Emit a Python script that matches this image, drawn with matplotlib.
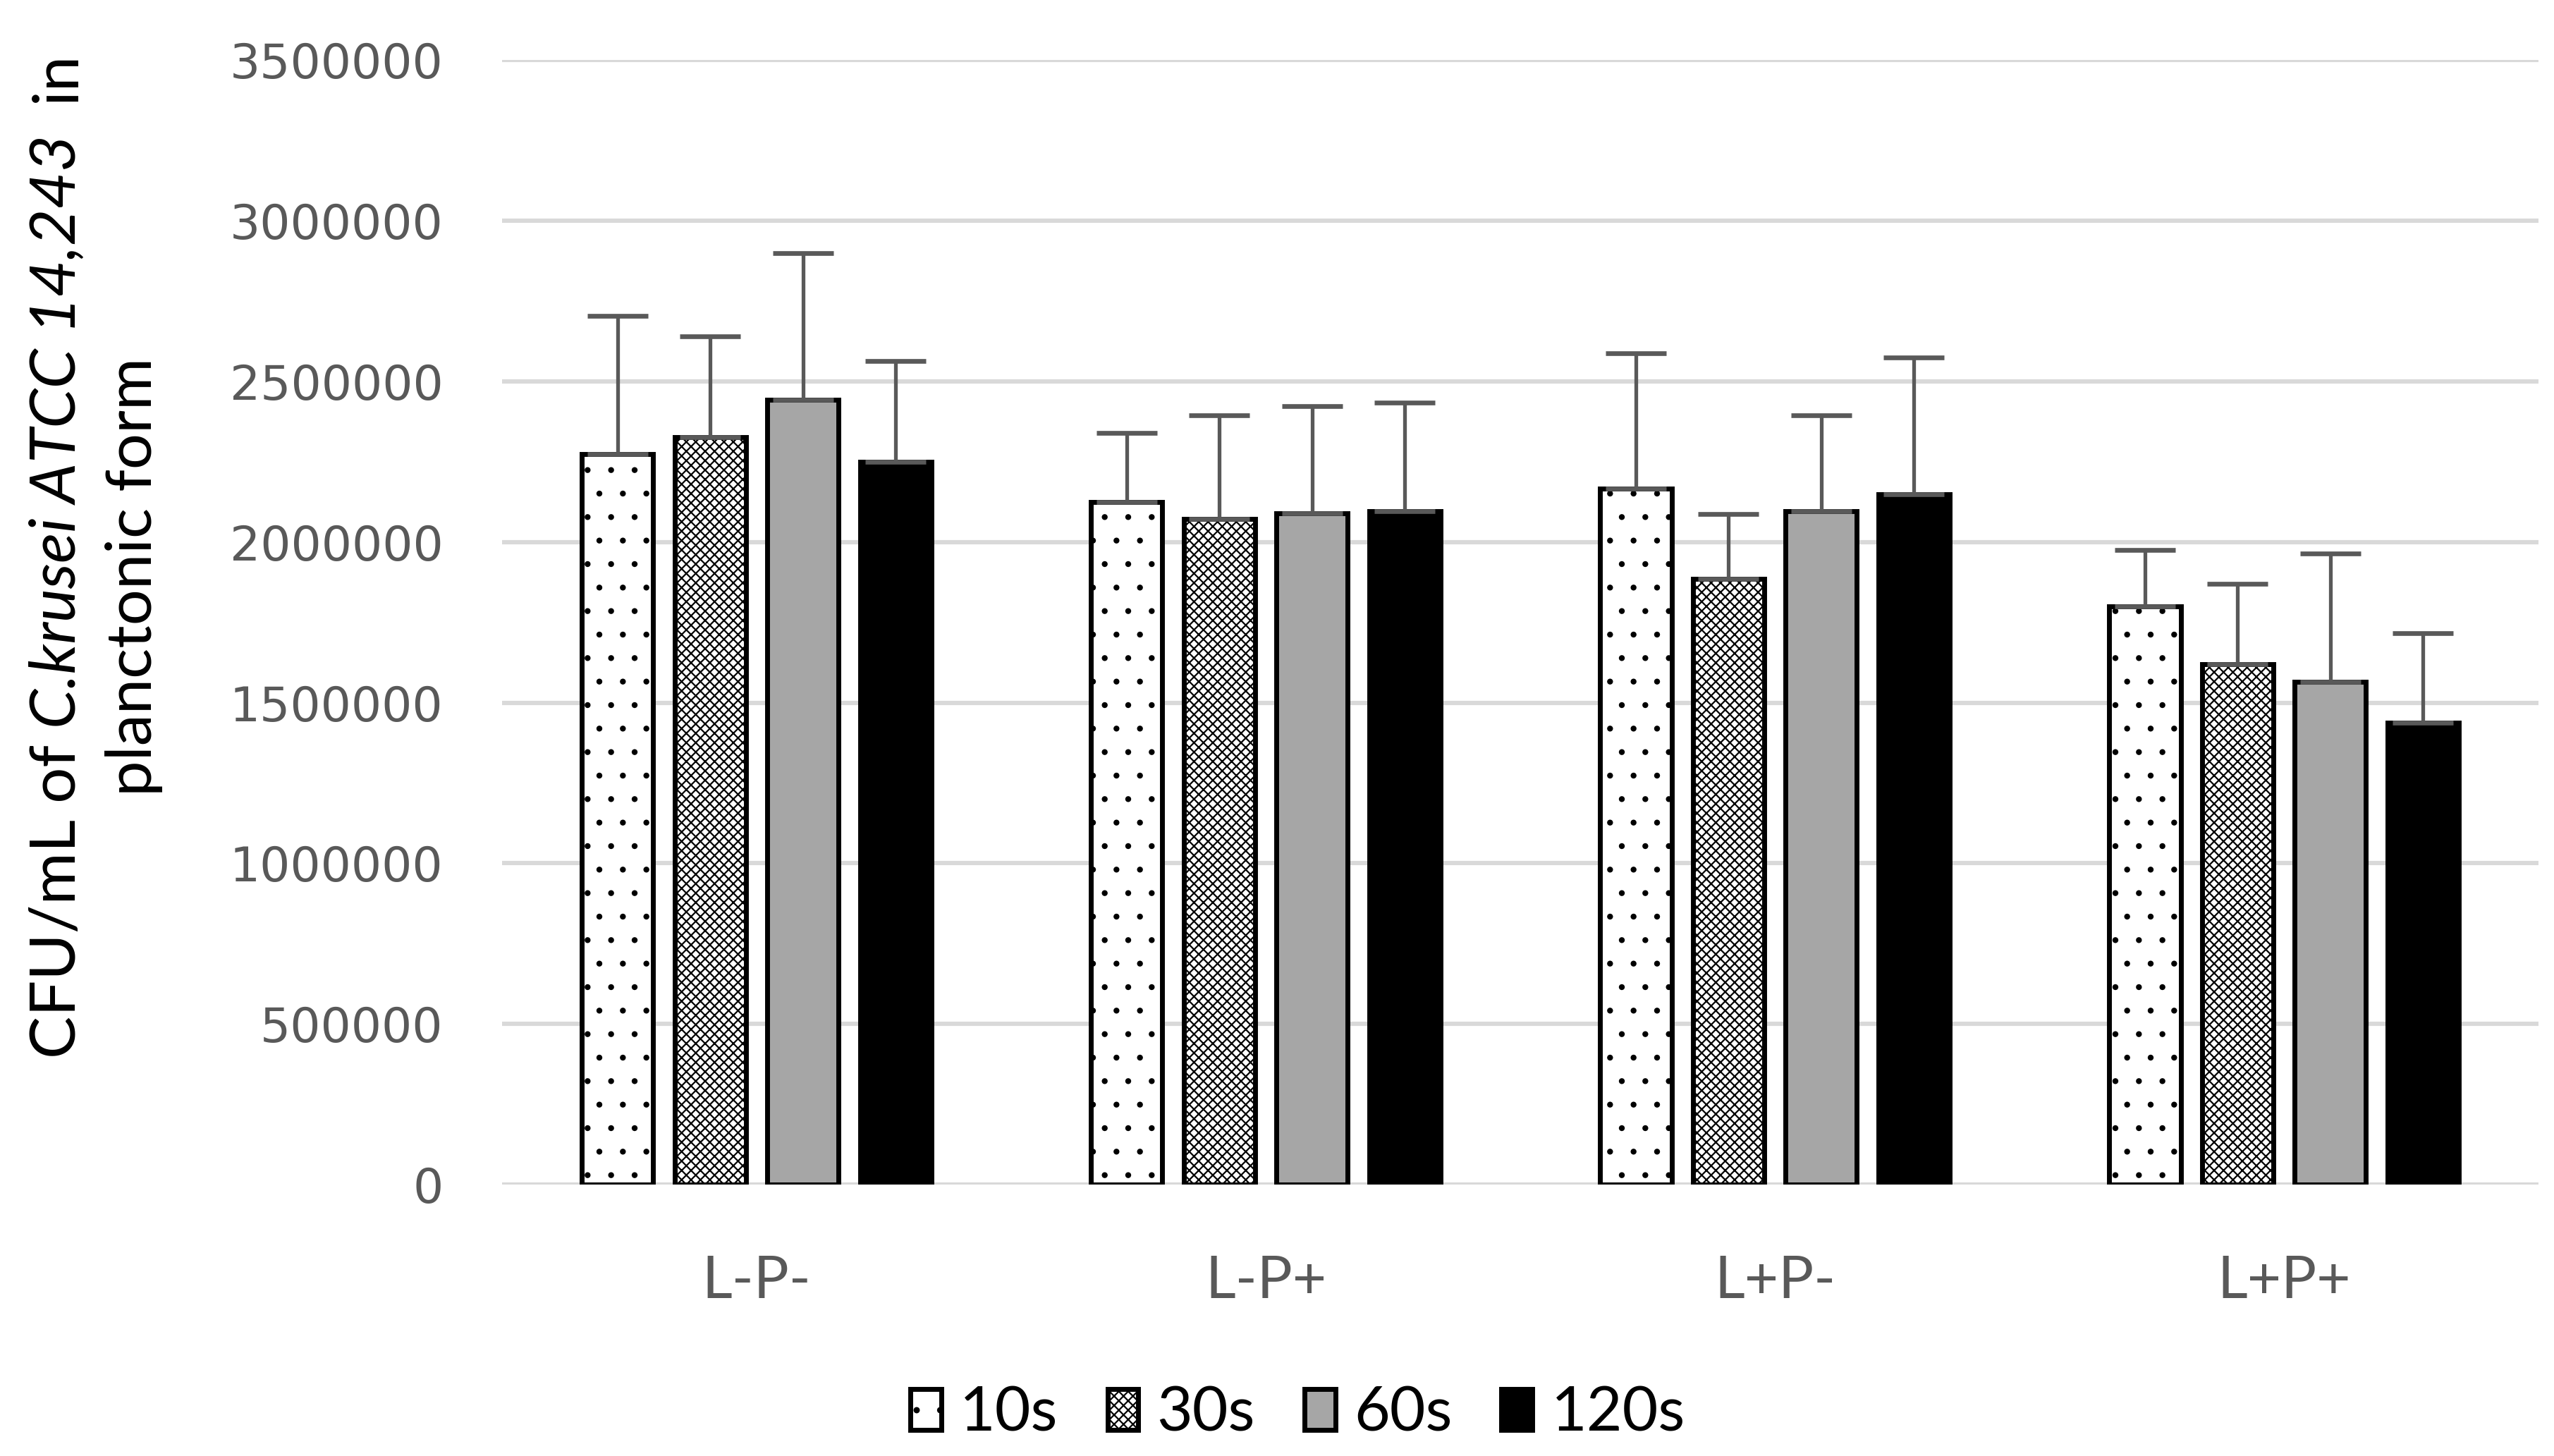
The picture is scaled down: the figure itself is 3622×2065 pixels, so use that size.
import numpy as np
import matplotlib
matplotlib.use("Agg")
import matplotlib.pyplot as plt
from matplotlib.ticker import StrMethodFormatter

# ── data ─────────────────────────────────────────────
groups = ["L-P-", "L-P+", "L+P-", "L+P+"]
times = ["10s", "30s", "60s", "120s"]

mean_10s  = [2275000, 2125000, 2167000, 1801000]
mean_30s  = [2326000, 2073000, 1886000, 1620000]
mean_60s  = [2443000, 2090000, 2096000, 1566000]
mean_120s = [2249000, 2096000, 2149000, 1438000]

sd_10s  = [430000, 216000, 421000, 174000]
sd_30s  = [315000, 321000, 201000, 250000]
sd_60s  = [456000, 333000, 298000, 398000]
sd_120s = [315000, 339000, 426000, 278000]

means = [mean_10s, mean_30s, mean_60s, mean_120s]
sds = [sd_10s, sd_30s, sd_60s, sd_120s]

# ── style ────────────────────────────────────────────
plt.rcParams["hatch.linewidth"] = 0.8
grey_txt = "#595959"
styles = [
    dict(facecolor="white", hatch="."),
    dict(facecolor="white", hatch="xxxxx"),
    dict(facecolor="#A6A6A6", hatch=None),
    dict(facecolor="black", hatch=None),
]
hatch_lw = [0.6, 0.8, 0.8, 0.8]

fig = plt.figure(figsize=(18.115, 10.325), dpi=200)
ax = fig.add_axes([0.1965, 0.1864, 0.7972, 0.7722])

x = np.arange(len(groups))
pitch = 0.182
width = 0.140
for i, (m, s) in enumerate(zip(means, sds)):
    pos = x + (i - 1.5) * pitch
    bars = ax.bar(pos, m, width=width, edgecolor="black", linewidth=2.5,
                  label=times[i], zorder=3, **styles[i])
    for p in bars:
        if hasattr(p, "set_hatch_linewidth"):
            p.set_hatch_linewidth(hatch_lw[i])
    ax.errorbar(pos, m, yerr=[np.zeros(len(s)), s], fmt="none",
                ecolor=grey_txt, elinewidth=1.9, capsize=15.5,
                capthick=2.4, zorder=4)

ax.set_xlim(-0.5, 3.5)
ax.set_ylim(0, 3500000)
ax.set_yticks(np.arange(0, 3500001, 500000))
ax.yaxis.set_major_formatter(StrMethodFormatter("{x:.0f}"))
ax.set_xticks(x)
ax.set_xticklabels(groups, family="Lato", fontsize=30, color=grey_txt)
ax.tick_params(axis="y", length=0, pad=30, labelsize=24.5, labelcolor=grey_txt)
ax.tick_params(axis="x", length=0, pad=36)
for sp in ax.spines.values():
    sp.set_visible(False)
ax.grid(axis="y", color="#D9D9D9", linewidth=2.2, zorder=0)
ax.set_axisbelow(True)

# ── y label with italic part ─────────────────────────
fig.canvas.draw()
renderer = fig.canvas.get_renderer()
H = fig.bbox.height
lab_size = 32.5


def text_len(s, style="normal"):
    t = fig.text(0, 0, s, rotation=90, fontsize=lab_size, family="Lato",
                 fontstyle=style)
    n = t.get_window_extent(renderer).height
    t.remove()
    return n


space = text_len("x x") - text_len("xx")


def vertical_line(xc, yc, pieces):
    lens = [text_len(s, st) for s, st, _ in pieces]
    total = sum(lens) + sum(g * space for _, _, g in pieces)
    y = yc * H - total / 2
    for (s, st, gap), n in zip(pieces, lens):
        fig.text(xc, y / H, s, rotation=90, fontsize=lab_size, family="Lato",
                 fontstyle=st, ha="center", va="bottom", color="black")
        y += n + gap * space


vertical_line(0.0225, 0.619, [("CFU/mL of", "normal", 1),
                              ("C.krusei ATCC 14,243", "italic", 2),
                              ("in", "normal", 0)])
vertical_line(0.0525, 0.604, [("planctonic form", "normal", 0)])

# ── legend ───────────────────────────────────────────
fig.legend(loc="center", bbox_to_anchor=(0.508, 0.029), ncol=4,
           frameon=False, prop=dict(family="Lato", size=31.5),
           handlelength=0.5, handleheight=0.65, handletextpad=0.3,
           columnspacing=0.8)

fig.savefig("out.png", dpi=200)
